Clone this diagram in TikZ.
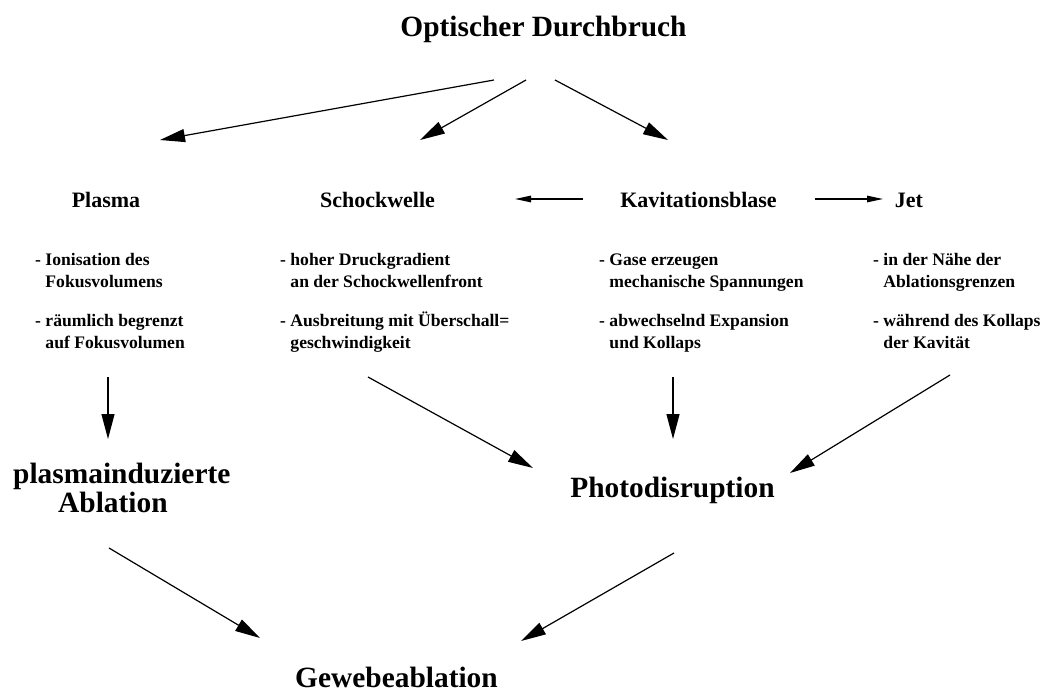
\documentclass[tikz,border=0pt]{standalone}
\usepackage{fontspec}
\setmainfont{Liberation Serif}
\usetikzlibrary{arrows.meta}
\tikzset{
  big/.style={font=\fontsize{29.4}{29}\selectfont\bfseries, inner sep=0pt},
  head/.style={font=\fontsize{22}{26}\selectfont\bfseries, inner sep=0pt, anchor=base},
  item/.style={font=\fontsize{17.6}{22}\selectfont\bfseries, inner sep=0pt, anchor=base west},
  bigarrow/.style={line width=1.2pt, -{Triangle[length=25pt,width=13pt]}},
  smallarrow/.style={line width=1.2pt, -{Triangle[length=16pt,width=6.5pt]}}
}
\newcommand{\indline}[1]{\hbox{\phantom{- }#1}}
\begin{document}
\begin{tikzpicture}[x=1pt,y=-1pt]
\useasboundingbox (0,0) rectangle (1045,693);
% headings
\node[big, anchor=base] (title) at (543.5,37) {Optischer Durchbruch};
\node[head] (plasma) at (106,207) {Plasma};
\node[head] (schock) at (377.5,207) {Schockwelle};
\node[head] (kav) at (698.5,207) {Kavitationsblase};
\node[head] (jet) at (909,207) {Jet};
% bullet blocks
\node[item] (bplasma) at (35,265) {\vtop{\hbox{- Ionisation des}\indline{Fokusvolumens}\vskip17pt\hbox{- räumlich begrenzt}\indline{auf Fokusvolumen}}};
\node[item] (bschock) at (280,265) {\vtop{\hbox{- hoher Druckgradient}\indline{an der Schockwellenfront}\vskip17pt\hbox{- Ausbreitung mit Überschall=}\indline{geschwindigkeit}}};
\node[item] (bkav) at (599,265) {\vtop{\hbox{- Gase erzeugen}\indline{mechanische Spannungen}\vskip17pt\hbox{- abwechselnd Expansion}\indline{und Kollaps}}};
\node[item] (bjet) at (873,265) {\vtop{\hbox{- in der Nähe der}\indline{Ablationsgrenzen}\vskip17pt\hbox{- während des Kollaps}\indline{der Kavität}}};
% results
\node[big, anchor=base west] (pia) at (13,483) {\vtop{\hbox{plasmainduzierte}\hbox{\hspace*{45pt}Ablation}}};
\node[big, anchor=base] (photo) at (672.5,497) {Photodisruption};
\node[big, anchor=base] (gewebe) at (396.5,687) {Gewebeablation};
% arrow end points
\coordinate (t1s) at (494,80);  \coordinate (t1e) at (160,140);
\coordinate (t2s) at (526,80);  \coordinate (t2e) at (420,140);
\coordinate (t3s) at (555,80);  \coordinate (t3e) at (668,140);
\coordinate (h1s) at (583,199); \coordinate (h1e) at (515,199);
\coordinate (h2s) at (815,199); \coordinate (h2e) at (883,199);
\coordinate (d1s) at (108,377); \coordinate (d1e) at (108,439);
\coordinate (d2s) at (368,377); \coordinate (d2e) at (533,468);
\coordinate (d3s) at (673,377); \coordinate (d3e) at (673,439);
\coordinate (d4s) at (950,375); \coordinate (d4e) at (790,473);
\coordinate (b1s) at (109,548); \coordinate (b1e) at (260,638);
\coordinate (b2s) at (674,553); \coordinate (b2e) at (521,641);
% arrows
\draw[bigarrow] (t1s) -- (t1e);
\draw[bigarrow] (t2s) -- (t2e);
\draw[bigarrow] (t3s) -- (t3e);
\draw[smallarrow] (h1s) -- (h1e);
\draw[smallarrow] (h2s) -- (h2e);
\draw[bigarrow] (d1s) -- (d1e);
\draw[bigarrow] (d2s) -- (d2e);
\draw[bigarrow] (d3s) -- (d3e);
\draw[bigarrow] (d4s) -- (d4e);
\draw[bigarrow] (b1s) -- (b1e);
\draw[bigarrow] (b2s) -- (b2e);
\end{tikzpicture}
\end{document}
